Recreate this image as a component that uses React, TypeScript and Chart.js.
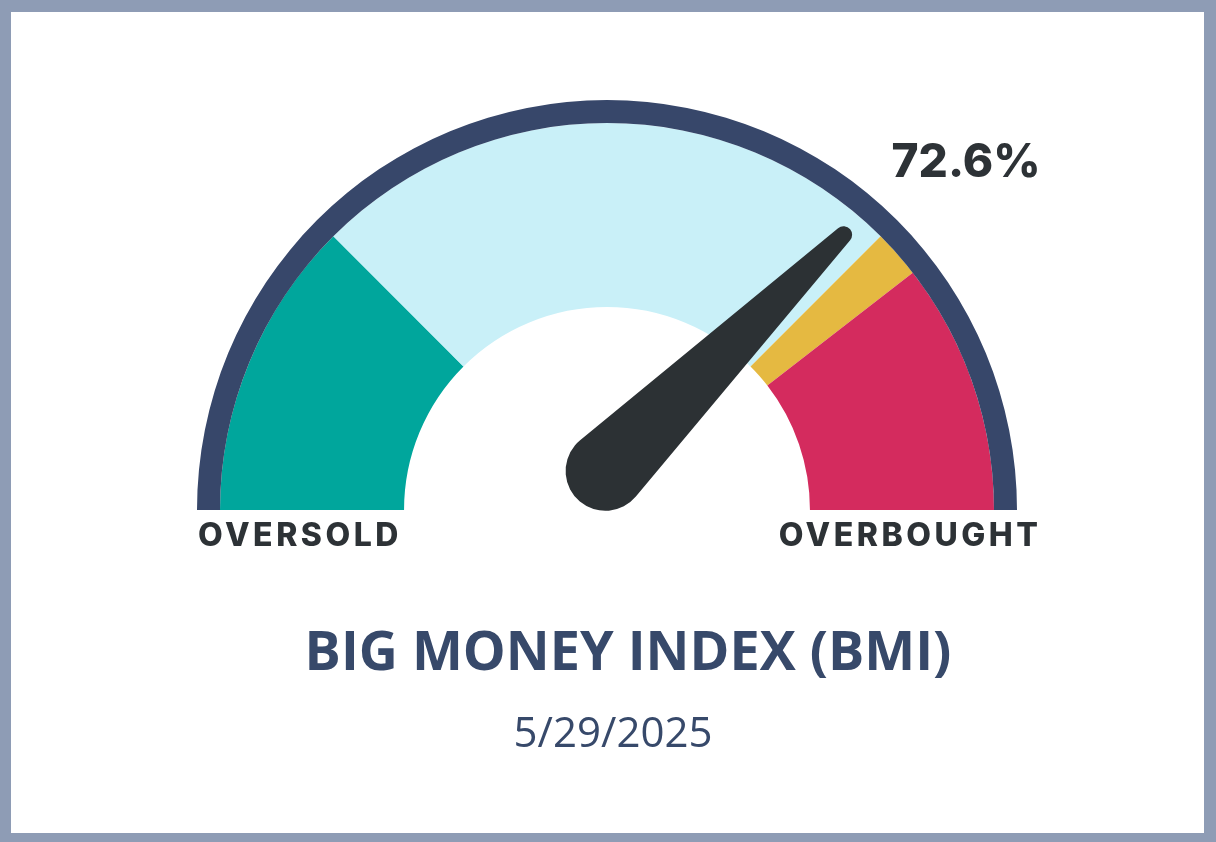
import React, { useEffect, useRef } from "react";
import { Chart, registerables } from "chart.js";

Chart.register(...registerables);

const zoneLabels = ["Oversold", "Neutral", "Caution", "Overbought"];
const zoneValues = [25, 50, 4, 21];
const zoneColors = ["#00a69c", "#c9f0f8", "#e5b941", "#d42b5e"];
const ringValues = [100];
const bmiValue = 72.6;
const valueLabel = "72.6%";
const leftLabel = "OVERSOLD";
const rightLabel = "OVERBOUGHT";
const titleText = "BIG MONEY INDEX (BMI)";
const dateText = "5/29/2025";

const W = 1216;
const H = 842;

const needlePlugin = {
  id: "needle",
  afterDatasetsDraw(chart: any) {
    const meta = chart.getDatasetMeta(0);
    const arc = meta.data[0];
    if (!arc) return;
    const cx = arc.x;
    const cy = arc.y;
    const R = arc.outerRadius;
    const ctx = chart.ctx;
    const ang = Math.PI + (bmiValue / 100) * Math.PI;
    const tx = cx + Math.cos(ang) * R * 0.885;
    const ty = cy + Math.sin(ang) * R * 0.885;
    const rT = R * 0.021;
    const bx = cx - R * 0.004;
    const by = cy - R * 0.095;
    const rB = R * 0.097;
    const th = Math.atan2(ty - by, tx - bx);
    const d = Math.hypot(tx - bx, ty - by);
    const al = Math.acos((rB - rT) / d);
    ctx.save();
    ctx.fillStyle = "#2c3134";
    ctx.beginPath();
    ctx.arc(bx, by, rB, th + al, th - al + Math.PI * 2);
    ctx.lineTo(tx + rT * Math.cos(th - al), ty + rT * Math.sin(th - al));
    ctx.arc(tx, ty, rT, th - al, th + al);
    ctx.closePath();
    ctx.fill();
    ctx.restore();
  },
  afterDraw(chart: any) {
    const ctx = chart.ctx;
    ctx.save();
    ctx.textAlign = "center";
    ctx.textBaseline = "alphabetic";
    ctx.fillStyle = "#2d3236";
    ctx.font = "800 46px Inter";
    (ctx as any).letterSpacing = "0px";
    ctx.fillText(valueLabel, 966, 177);
    ctx.font = "800 32px Inter";
    (ctx as any).letterSpacing = "3.5px";
    ctx.fillText(leftLabel, 300, 546);
    ctx.fillText(rightLabel, 910, 546);
    (ctx as any).letterSpacing = "0px";
    ctx.fillStyle = "#37496a";
    ctx.font = "700 54px 'Open Sans'";
    ctx.fillText(titleText, 628, 670);
    ctx.font = "400 42px 'Open Sans'";
    ctx.fillText(dateText, 613, 747);
    ctx.restore();
  },
};

export default function App() {
  const ref = useRef<HTMLCanvasElement>(null);
  useEffect(() => {
    if (!ref.current) return;
    const chart = new Chart(ref.current, {
      type: "doughnut",
      data: {
        labels: zoneLabels,
        datasets: [
          {
            data: ringValues,
            backgroundColor: ["#37476a"],
            borderWidth: 0,
            weight: 23,
            hoverOffset: 0,
          } as any,
          {
            data: zoneValues,
            backgroundColor: zoneColors,
            borderWidth: 0,
            weight: 184,
            hoverOffset: 0,
          } as any,
        ],
      },
      options: {
        responsive: false,
        animation: false,
        rotation: -90,
        circumference: 180,
        cutout: "49.5%",
        layout: { padding: { left: 197, right: 199, top: 100, bottom: 332 } },
        plugins: {
          legend: { display: false },
          tooltip: { enabled: false },
        },
        events: [],
      },
      plugins: [needlePlugin],
    });
    return () => chart.destroy();
  }, []);

  return (
    <div
      style={{
        position: "fixed",
        left: 0,
        top: 0,
        width: W,
        height: H,
        background: "#8e9cb5",
        overflow: "hidden",
      }}
    >
      <div
        style={{
          position: "absolute",
          left: 11,
          top: 12,
          width: 1193,
          height: 821,
          background: "#ffffff",
        }}
      />
      <canvas
        ref={ref}
        width={W}
        height={H}
        style={{ position: "absolute", left: 0, top: 0, width: W, height: H }}
      />
    </div>
  );
}
